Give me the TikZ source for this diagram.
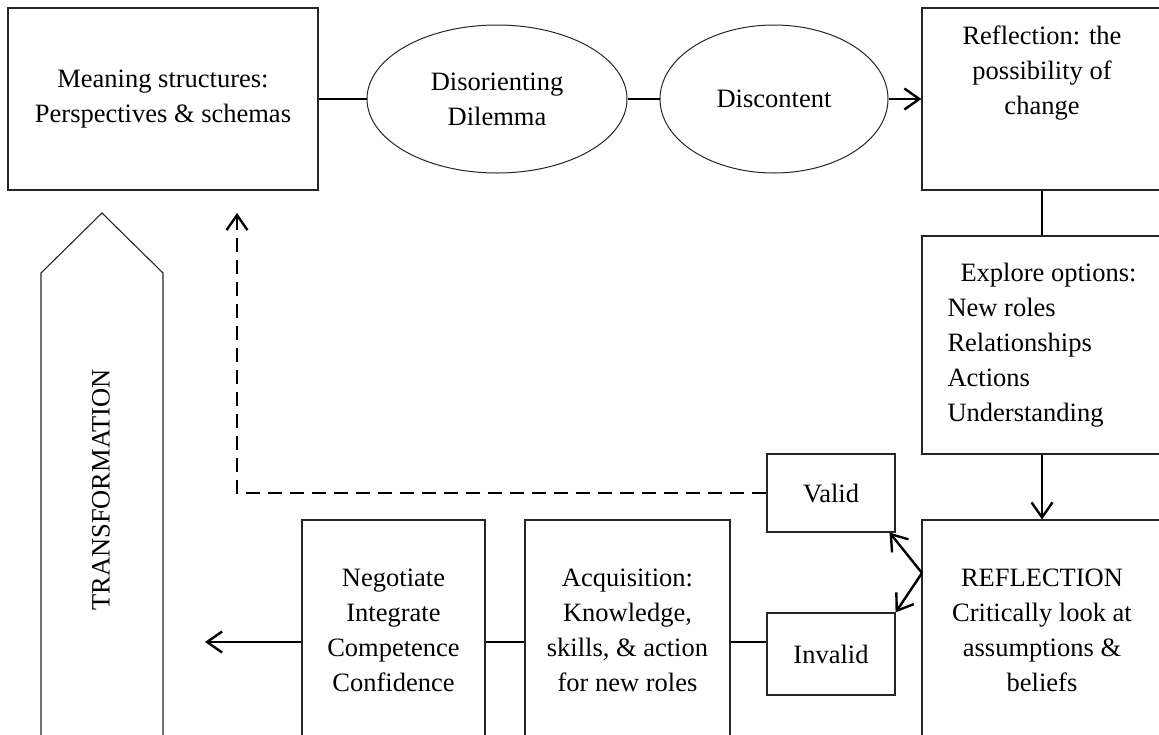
\documentclass[tikz,border=0pt]{standalone}
\usepackage{fontspec}
\setmainfont{Liberation Serif}
\usetikzlibrary{shapes.geometric,arrows.meta}

\tikzset{
  box/.style={draw=black!85,line width=1.1pt,rectangle,inner sep=0pt,align=center},
  oval/.style={draw=black!85,line width=1pt,ellipse,inner sep=0pt,align=center},
  link/.style={line width=2.4pt},
  arr/.style={link,-{Straight Barb[length=15pt,width=21pt,line width=2.4pt]}},
}

\begin{document}
\begin{tikzpicture}[x=1pt,y=-1pt,font=\fontsize{26.5}{35}\selectfont]
      \useasboundingbox (0,0) rectangle (1159,734);
      \clip (0,0) rectangle (1159,734);
      % top row
      \node[box,minimum width=310pt,minimum height=182pt] (meaning) at (163,99) {Meaning structures:\\Perspectives \& schemas};
      \node[oval,minimum width=260pt,minimum height=148pt] (dilemma) at (497,99) {Disorienting\\Dilemma};
      \node[oval,minimum width=228pt,minimum height=148pt] (discontent) at (774,99) {Discontent};
      \node[box,minimum width=240pt,minimum height=182pt] (reflect) at (1042,99) {};
      \node[anchor=north,inner sep=0pt,align=center] (reflecttxt) at ([yshift=-18pt]reflect.north) {Reflection: the\\possibility of\\change};
      % right column
      \node[box,minimum width=240pt,minimum height=218pt,align=left] (explore) at (1042,345) {\hspace*{13pt}Explore options:\\New roles\\Relationships\\Actions\\Understanding};
      \node[box,minimum width=240pt,minimum height=220pt] (critical) at (1042,630) {REFLECTION\\Critically look at\\assumptions \&\\beliefs};
      % bottom row
      \node[box,minimum width=128pt,minimum height=78pt] (valid) at (831,493) {Valid};
      \node[box,minimum width=128pt,minimum height=82pt] (invalid) at (831,654) {Invalid};
      \node[box,minimum width=205pt,minimum height=220pt] (acquire) at (627.5,630) {Acquisition:\\Knowledge,\\skills, \& action\\for new roles};
      \node[box,minimum width=183pt,minimum height=220pt] (negotiate) at (393.5,630) {Negotiate\\Integrate\\Competence\\Confidence};
      % transformation arrow
      \draw[draw=black!85,line width=1.1pt] (41,760) -- (41,273) -- (102,213) -- (163,273) -- (163,760);
      \node[rotate=90,inner sep=0pt] (trans) at (101,490) {TRANSFORMATION};
      \coordinate (fork) at (922,573);
      \coordinate (row) at (0,642);
      \coordinate (back) at (237,213);
      \coordinate (out) at (205,642);
      % connectors
      \draw[link] (meaning) -- (dilemma);
      \draw[link] (dilemma) -- (discontent);
      \draw[arr] (discontent) -- (reflect);
      \draw[link] (reflect) -- (explore);
      \draw[arr] (explore) -- (critical);
      \draw[arr] (fork) -- ([xshift=-6pt]valid.south east);
      \draw[arr] (fork) -- (invalid.north east);
      \draw[arr,dash pattern=on 14pt off 8pt] (valid.west) -| (back);
      \draw[link] (acquire.east |- row) -- (invalid.west |- row);
      \draw[link] (negotiate.east |- row) -- (acquire.west |- row);
      \draw[arr] (negotiate.west |- row) -- (out);
    \end{tikzpicture}
\end{document}
